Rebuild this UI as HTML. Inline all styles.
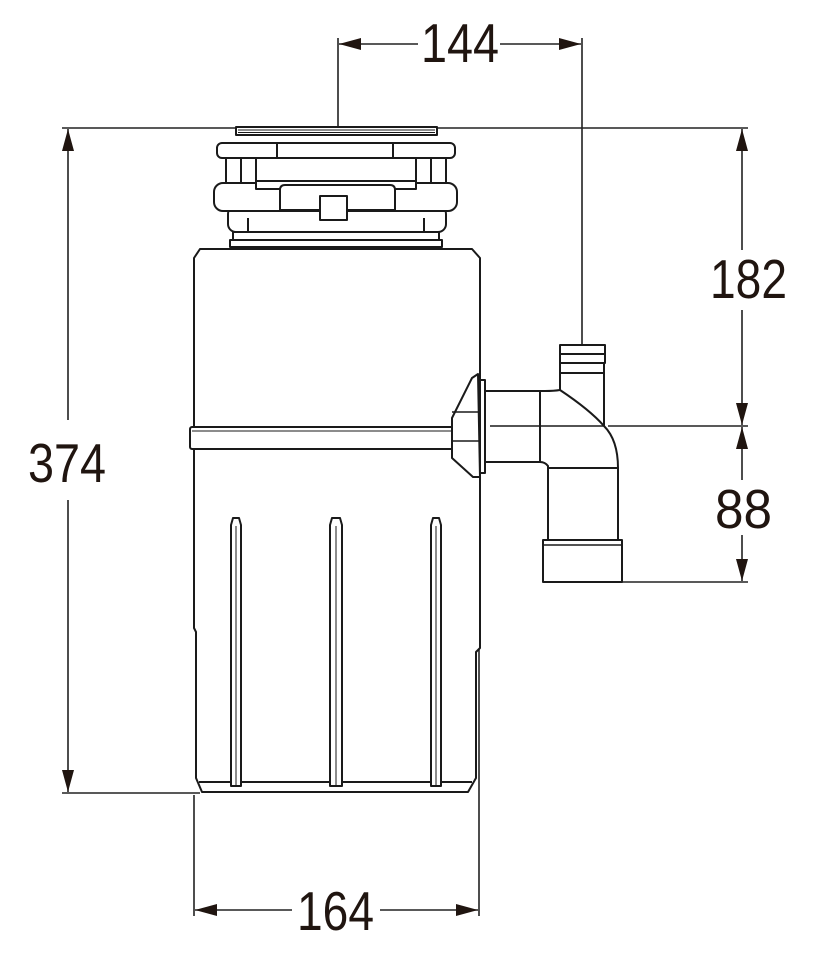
<!DOCTYPE html>
<html><head><meta charset="utf-8"><style>
html,body{margin:0;padding:0;background:#fff;}
svg{display:block;}
text{font-family:"Liberation Sans",sans-serif;font-size:55px;fill:#201510;}
</style></head><body>
<svg width="815" height="960" viewBox="0 0 815 960" xmlns="http://www.w3.org/2000/svg">
<defs>
<marker id="a" viewBox="0 0 22 12" refX="22" refY="6" markerWidth="22" markerHeight="12" markerUnits="userSpaceOnUse" orient="auto"><path d="M0,0 L22,6 L0,12 Z" fill="#201510"/></marker>
</defs>
<g stroke="#222" stroke-width="1.6" fill="none">
<!-- extension lines -->
<line x1="338" y1="38" x2="338" y2="128"/>
<line x1="582" y1="38" x2="582" y2="345"/>
<line x1="62" y1="128" x2="748" y2="128"/>
<line x1="62" y1="793" x2="200" y2="793"/>
<line x1="608" y1="426" x2="748" y2="426"/>
<line x1="620" y1="582" x2="748" y2="582"/>
<line x1="194" y1="795" x2="194" y2="916"/>
<line x1="479" y1="480" x2="479" y2="916"/>
<!-- dimension lines -->
<line x1="418" y1="44" x2="339" y2="44" marker-end="url(#a)"/>
<line x1="500" y1="44" x2="581" y2="44" marker-end="url(#a)"/>
<line x1="68" y1="420" x2="68" y2="129" marker-end="url(#a)"/>
<line x1="68" y1="500" x2="68" y2="792" marker-end="url(#a)"/>
<line x1="742" y1="250" x2="742" y2="129" marker-end="url(#a)"/>
<line x1="742" y1="310" x2="742" y2="425" marker-end="url(#a)"/>
<line x1="742" y1="480" x2="742" y2="427" marker-end="url(#a)"/>
<line x1="742" y1="535" x2="742" y2="581" marker-end="url(#a)"/>
<line x1="292" y1="910" x2="195" y2="910" marker-end="url(#a)"/>
<line x1="380" y1="910" x2="478" y2="910" marker-end="url(#a)"/>
</g>
<text x="421" y="62" textLength="78" lengthAdjust="spacingAndGlyphs">144</text>
<text x="28" y="482" textLength="78" lengthAdjust="spacingAndGlyphs">374</text>
<text x="710" y="298" textLength="77" lengthAdjust="spacingAndGlyphs">182</text>
<text x="715" y="528" textLength="57" lengthAdjust="spacingAndGlyphs">88</text>
<text x="297" y="930" textLength="77" lengthAdjust="spacingAndGlyphs">164</text>

<g stroke="#1a1a1a" stroke-width="2" fill="#fff" stroke-linejoin="round">
<!-- top flange -->
<rect x="236" y="127" width="201" height="8"/>
<line x1="238" y1="130" x2="435" y2="130" stroke-width="1"/>
<line x1="238" y1="132.5" x2="435" y2="132.5" stroke-width="1"/>
<rect x="217" y="143" width="238" height="15" rx="5"/>
<line x1="277" y1="143" x2="277" y2="158"/><line x1="393" y1="143" x2="393" y2="158"/>
<rect x="226" y="158" width="15" height="25"/><rect x="241" y="158" width="15" height="25"/>
<rect x="416" y="158" width="15" height="25"/><rect x="431" y="158" width="15" height="25"/>
<rect x="228" y="206" width="218" height="26" rx="8"/>
<rect x="214" y="183" width="243" height="28" rx="9"/>
<rect x="256" y="181" width="160" height="8"/>
<path d="M280 190 Q280 185 285 185 L390 185 Q395 185 395 190 L395 210 L280 210 Z"/>
<rect x="320" y="196" width="27" height="24"/>
<rect x="233" y="232" width="206" height="8"/>
<line x1="248" y1="232" x2="248" y2="218"/><line x1="424" y1="232" x2="424" y2="218"/>
<rect x="230" y="240" width="212" height="7"/>
<!-- body -->
<path d="M194 258 L200 249 L472 249 L480 258 L480 648 L476 652 L476 778 L468 792 L202 792 L196 778 L196 632 L194 628 Z"/>
<line x1="199" y1="782" x2="472" y2="782"/>
<!-- band -->
<rect x="190" y="427" width="265" height="22" rx="2"/>
<line x1="192" y1="431" x2="453" y2="431" stroke-width="1"/>
<!-- ribs -->
<path d="M231 786 L231 525 L233 518 L239 518 L241 525 L241 786 Z"/><line x1="236" y1="526" x2="236" y2="786" stroke-width="1"/>
<path d="M330 786 L330 525 L332 518 L340 518 L342 525 L342 786 Z"/><line x1="336" y1="526" x2="336" y2="786" stroke-width="1"/>
<path d="M431 786 L431 525 L433 518 L439 518 L441 525 L441 786 Z"/><line x1="436" y1="526" x2="436" y2="786" stroke-width="1"/>
<!-- outlet cone -->
<path d="M478 374 L472 378 L452 418 L452 458 L473 477 L480 477 Z"/>
<line x1="452" y1="412" x2="480" y2="412" stroke-width="1.5"/><line x1="452" y1="441" x2="480" y2="441" stroke-width="1.5"/>
<rect x="480" y="380" width="5" height="93"/>
<!-- nozzle -->
<rect x="560" y="345" width="45" height="9"/>
<rect x="560" y="354" width="45" height="9"/>
<rect x="560" y="363" width="44" height="10"/>
<!-- elbow -->
<path d="M485 391 L545 391 Q554 391 560 390 L560 373 L604 373 L604 426 Q618 440 618 468 L548 468 L548 466 Q545 462 540 462 L485 462 Z"/>
<line x1="540" y1="391" x2="540" y2="462"/>
<path d="M560 390 Q590 410 604 426" fill="none"/>
<line x1="490" y1="426" x2="604" y2="426" stroke-width="1.6"/>
<rect x="548" y="468" width="70" height="72"/>
<rect x="543" y="540" width="79" height="42"/>
<line x1="544" y1="545" x2="621" y2="545" stroke-width="1.5"/>
</g>
</svg>
</body></html>
